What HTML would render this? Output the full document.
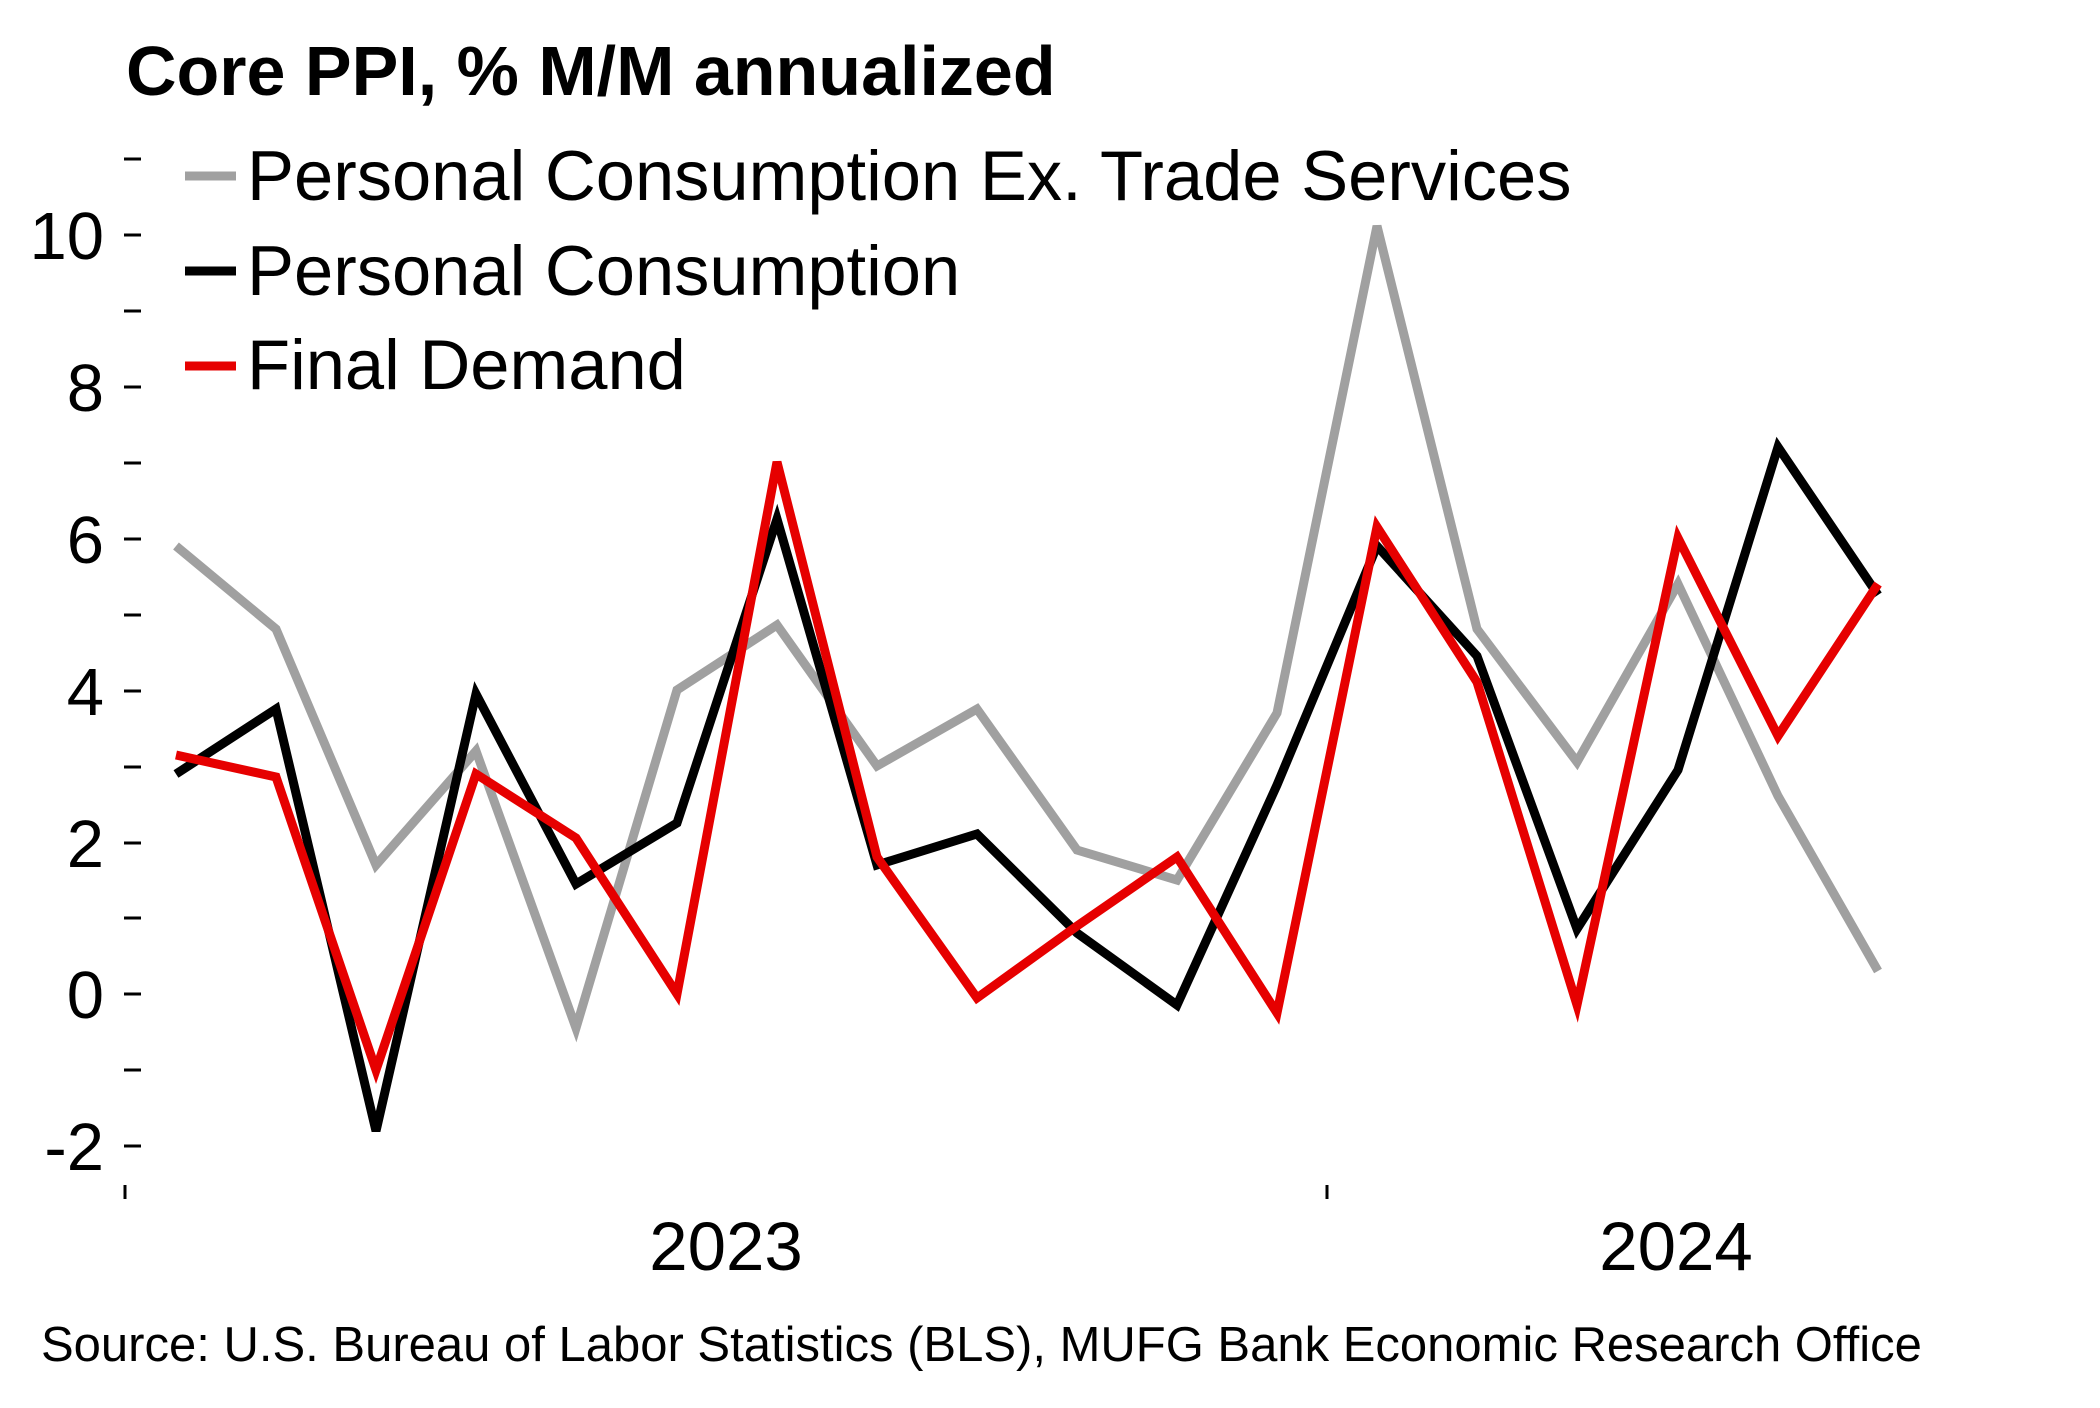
<!DOCTYPE html>
<html><head><meta charset="utf-8"><style>html,body{margin:0;padding:0;background:#fff}</style></head><body>
<svg width="2100" height="1403" xmlns="http://www.w3.org/2000/svg" font-family="Liberation Sans, Arial, sans-serif">
<rect width="2100" height="1403" fill="#fff"/>
<text x="126" y="95" font-size="70" font-weight="bold">Core PPI, % M/M annualized</text>
<g stroke="#000" stroke-width="3">
<line x1="124" x2="141" y1="159" y2="159"/><line x1="124" x2="141" y1="235" y2="235"/>
<line x1="124" x2="141" y1="311" y2="311"/><line x1="124" x2="141" y1="387" y2="387"/>
<line x1="124" x2="141" y1="463" y2="463"/><line x1="124" x2="141" y1="539" y2="539"/>
<line x1="124" x2="141" y1="615" y2="615"/><line x1="124" x2="141" y1="691" y2="691"/>
<line x1="124" x2="141" y1="767" y2="767"/><line x1="124" x2="141" y1="843" y2="843"/>
<line x1="124" x2="141" y1="918" y2="918"/><line x1="124" x2="141" y1="994" y2="994"/>
<line x1="124" x2="141" y1="1070" y2="1070"/><line x1="124" x2="141" y1="1146" y2="1146"/>
<line x1="125" x2="125" y1="1185" y2="1199"/><line x1="1327" x2="1327" y1="1185" y2="1199"/>
</g>
<g font-size="67" text-anchor="end">
<text x="104" y="259">10</text><text x="104" y="411">8</text><text x="104" y="563">6</text>
<text x="104" y="715">4</text><text x="104" y="867">2</text><text x="104" y="1018">0</text><text x="104" y="1170">-2</text>
</g>
<g font-size="69" text-anchor="middle"><text x="726" y="1270">2023</text><text x="1676" y="1270">2024</text></g>
<g fill="none" stroke-width="9" stroke-linejoin="miter">
<polyline stroke="#a0a0a0" points="176,546 276,629 376,865 476,751 576,1028 677,690 777,625 877,766 977,709 1077,850 1177,880 1277,713 1377,226 1477,629 1577,762 1678,584 1778,796 1878,971"/>
<polyline stroke="#000" points="176,774 276,709 376,1131 476,694 576,884 677,823 777,519 877,865 977,834 1077,933 1177,1005 1277,785 1377,546 1477,656 1577,929 1678,770 1778,447 1878,595"/>
<polyline stroke="#e60000" points="176,755 276,777 376,1070 476,774 576,838 677,994 777,462 877,857 977,998 1077,926 1177,857 1277,1013 1377,527 1477,682 1577,1005 1678,538 1778,736 1878,584"/>
</g>
<g stroke-width="9"><line x1="185" x2="236" y1="176" y2="176" stroke="#a0a0a0"/><line x1="185" x2="236" y1="271" y2="271" stroke="#000"/><line x1="185" x2="236" y1="366" y2="366" stroke="#e60000"/></g>
<g font-size="70.5"><text x="247" y="200">Personal Consumption Ex. Trade Services</text><text x="247" y="295">Personal Consumption</text><text x="247" y="389">Final Demand</text></g>
<text x="41" y="1361" font-size="49">Source: U.S. Bureau of Labor Statistics (BLS), MUFG Bank Economic Research Office</text>
</svg>
</body></html>
